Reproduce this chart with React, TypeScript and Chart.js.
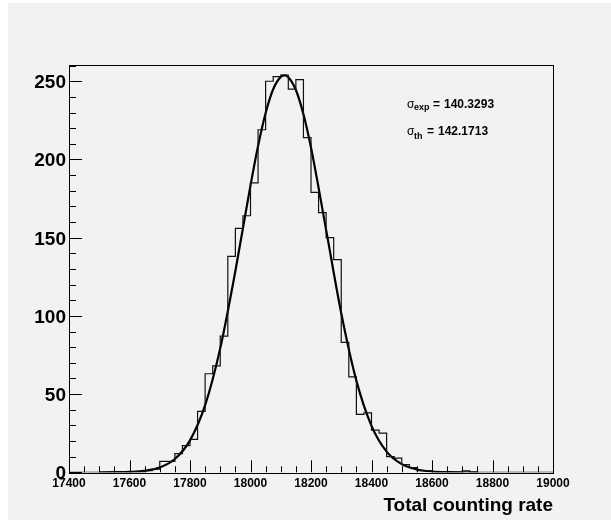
import React, { useEffect, useRef } from "react";
import { Chart, registerables } from "chart.js";

Chart.register(...registerables);

// Histogram: bin low edges (width 25) and counts
const binLowEdges: number[] = Array.from({ length: 64 }, (_, k) => 17400 + 25 * k);
const binCounts: number[] = [
  0, 0, 0, 0, 0, 0, 0, 0, 0, 0,
  1, 2, 7, 7, 12, 17, 21, 39, 63, 68,
  87, 138, 156, 164, 185, 219, 250, 253, 254, 245,
  251, 214, 179, 166, 150, 136, 83, 61, 37, 38,
  27, 25, 10, 9, 5, 3, 1, 1, 0, 0,
  0, 0, 1, 0, 0, 0, 0, 0, 0, 0,
  0, 0, 0, 0,
];
const histMax = 19000;

// Fit curve
const fitX: number[] = [
  17500, 17550, 17600, 17650, 17700, 17750, 17800, 17850, 17900, 17950, 18000,
  18025, 18050, 18075, 18100, 18112, 18125, 18150, 18175, 18200, 18250, 18300,
  18350, 18400, 18450, 18500, 18550, 18600, 18650, 18700, 18750,
];
const fitY: number[] = [
  0.0, 0.1, 0.3, 1.0, 3.1, 8.5, 20.4, 42.9, 79.3, 128.7, 183.4,
  208.6, 229.7, 244.9, 252.8, 253.7, 252.6, 244.4, 228.9, 207.6, 155.0, 101.7,
  58.6, 29.7, 13.2, 5.2, 1.8, 0.5, 0.1, 0.0, 0.0,
];

// Axis ticks
const xMajorTicks: number[] = [17400, 17600, 17800, 18000, 18200, 18400, 18600, 18800, 19000];
const xMinorStep = 50;
const yMajorTicks: number[] = [0, 50, 100, 150, 200, 250];
const yMinorStep = 10;
const xMin = 17400;
const xMax = 19000;
const yMin = 0;
const yMax = 260.7;

const xTitle = "Total counting rate";
const sigmaExpLabel = "exp";
const sigmaExpValue = "140.3293";
const sigmaThLabel = "th";
const sigmaThValue = "142.1713";

const FONT = '"Liberation Sans", Arial, Helvetica, sans-serif';

const rootPlugin = {
  id: "rootStyle",
  beforeDraw(chart: any) {
    const { ctx, width, height } = chart;
    ctx.save();
    ctx.fillStyle = "#ffffff";
    ctx.fillRect(0, 0, width, height);
    ctx.fillStyle = "#f2f2f2";
    ctx.fillRect(8, 3, width - 8, height - 3);
    ctx.restore();
  },
  afterDatasetsDraw(chart: any) {
    const { ctx, chartArea } = chart;
    const xs = chart.scales.x;
    const ys = chart.scales.y;
    const { left, right, top, bottom } = chartArea;
    ctx.save();
    ctx.strokeStyle = "#000";
    ctx.lineWidth = 1;
    // frame
    ctx.strokeRect(Math.round(left) + 0.5, Math.round(top) + 0.5, Math.round(right - left), Math.round(bottom - top));

    // x ticks
    ctx.beginPath();
    for (let v = xMin; v <= xMax + 0.001; v += xMinorStep) {
      const px = Math.round(xs.getPixelForValue(v)) + 0.5;
      const major = xMajorTicks.includes(v);
      const len = major ? 12 : 6;
      ctx.moveTo(px, bottom);
      ctx.lineTo(px, bottom - len);
    }
    // y ticks
    for (let v = yMin; v <= yMax; v += yMinorStep) {
      const py = Math.round(ys.getPixelForValue(v)) + 0.5;
      const major = yMajorTicks.includes(v);
      const len = major ? 13 : 7;
      ctx.moveTo(left, py);
      ctx.lineTo(left + len, py);
    }
    ctx.stroke();

    // x labels
    ctx.fillStyle = "#000";
    ctx.font = `bold 12px ${FONT}`;
    ctx.textAlign = "center";
    ctx.textBaseline = "alphabetic";
    xMajorTicks.forEach((v) => {
      ctx.fillText(String(v), xs.getPixelForValue(v), 487);
    });
    // y labels
    ctx.font = `bold 19px ${FONT}`;
    ctx.textAlign = "right";
    yMajorTicks.forEach((v) => {
      ctx.fillText(String(v), left - 3, ys.getPixelForValue(v) + 7);
    });
    // x title
    ctx.font = `bold 19px ${FONT}`;
    ctx.textAlign = "right";
    ctx.fillText(xTitle, right, 511);

    // sigma annotations
    ctx.textAlign = "left";
    ctx.font = `12px ${FONT}`;
    ctx.fillText("σ", 407, 107.5);
    ctx.fillText("σ", 407, 134.5);
    ctx.font = `bold 9px ${FONT}`;
    ctx.fillText(sigmaExpLabel, 414, 110);
    ctx.fillText(sigmaThLabel, 414, 139);
    ctx.font = `bold 12px ${FONT}`;
    ctx.fillText("=", 433, 107.5);
    ctx.fillText(sigmaExpValue, 444, 107.5);
    ctx.fillText("=", 427, 134.5);
    ctx.fillText(sigmaThValue, 438, 134.5);
    ctx.restore();
  },
};

export default function App() {
  const ref = useRef<HTMLCanvasElement>(null);
  useEffect(() => {
    if (!ref.current) return;
    const histData = binLowEdges.map((x, i) => ({ x, y: binCounts[i] }));
    histData.push({ x: histMax, y: binCounts[binCounts.length - 1] });
    const fitData = fitX.map((x, i) => ({ x, y: fitY[i] }));
    const chart = new Chart(ref.current, {
      type: "line",
      data: {
        datasets: [
          {
            data: histData,
            stepped: "before",
            borderColor: "#111",
            borderWidth: 1.2,
            pointRadius: 0,
            fill: false,
          },
          {
            data: fitData,
            borderColor: "#000",
            borderWidth: 2.2,
            pointRadius: 0,
            cubicInterpolationMode: "monotone",
            fill: false,
          },
        ],
      },
      options: {
        animation: false,
        responsive: false,
        devicePixelRatio: 1,
        parsing: true,
        layout: { padding: { left: 69, right: 58, top: 64.5, bottom: 47.7 } },
        plugins: { legend: { display: false }, tooltip: { enabled: false } },
        scales: {
          x: { type: "linear", min: xMin, max: xMax, display: false },
          y: { type: "linear", min: yMin, max: yMax, display: false },
        },
      },
      plugins: [rootPlugin],
    });
    return () => chart.destroy();
  }, []);
  return (
    <div style={{ position: "absolute", left: 0, top: 0, width: 611, height: 520 }}>
      <canvas ref={ref} width={611} height={520} style={{ display: "block", width: 611, height: 520 }} />
    </div>
  );
}
